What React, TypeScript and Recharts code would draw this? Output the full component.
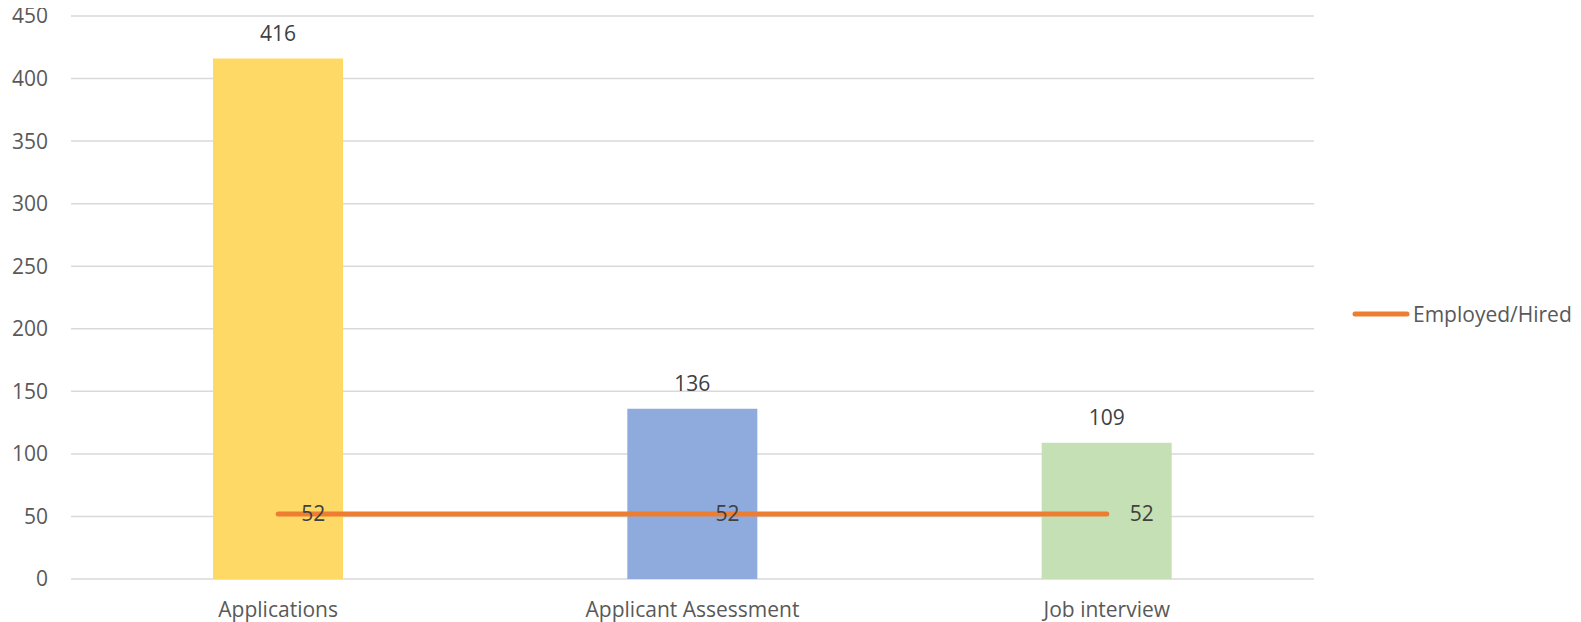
import React from "react";
import {
  ComposedChart,
  Bar,
  Line,
  XAxis,
  YAxis,
  CartesianGrid,
  Cell,
  LabelList,
} from "recharts";

const categories = ["Applications", "Applicant Assessment", "Job interview"];
const stageCounts = [416, 136, 109];
const hiredCounts = [52, 52, 52];
const barColors = ["#FFD966", "#8FAADC", "#C5E0B4"];
const yTicks = [0, 50, 100, 150, 200, 250, 300, 350, 400, 450];
const lineName = "Employed/Hired";
const lineColor = "#ED7D31";

const data = categories.map((c, i) => ({
  name: c,
  stage: stageCounts[i],
  hired: hiredCounts[i],
}));

const FONT = "'Open Sans', sans-serif";
const FS = 21;

const LegendBox = () => (
  <div
    style={{
      position: "absolute",
      left: 1350,
      top: 300,
      height: 28,
      display: "flex",
      alignItems: "center",
      fontFamily: FONT,
      fontSize: FS,
      color: "#595959",
      whiteSpace: "nowrap",
    }}
  >
    <svg width={62} height={10} style={{ marginRight: 1 }}>
      <line x1={5} y1={5} x2={57} y2={5} stroke={lineColor} strokeWidth={5} strokeLinecap="round" />
    </svg>
    <span>{lineName}</span>
  </div>
);

export default function App() {
  return (
    <div style={{ position: "relative", margin: "-8px 0 0 -8px", width: 1581, height: 622 }}>
      <ComposedChart
        width={1581}
        height={622}
        data={data}
        margin={{ top: 16, right: 267, bottom: 0, left: 0 }}
        style={{ fontFamily: FONT }}
      >
        <CartesianGrid vertical={false} stroke="#D9D9D9" strokeWidth={1.5} />
        <XAxis
          dataKey="name"
          axisLine={false}
          tickLine={false}
          tickSize={0}
          tickMargin={23}
          height={43}
          tick={{ fill: "#595959", fontSize: FS, fontFamily: FONT }}
        />
        <YAxis
          domain={[0, 450]}
          ticks={yTicks}
          axisLine={false}
          tickLine={false}
          tickSize={0}
          tickMargin={23}
          width={71}
          tick={{ fill: "#595959", fontSize: FS, fontFamily: FONT }}
        />
        <Bar dataKey="stage" barSize={130} isAnimationActive={false} legendType="none">
          {data.map((d, i) => (
            <Cell key={d.name} fill={barColors[i]} />
          ))}
          <LabelList
            dataKey="stage"
            position="top"
            offset={18}
            fill="#404040"
            fontSize={FS}
            fontFamily={FONT}
          />
        </Bar>
        <Line
          dataKey="hired"
          name={lineName}
          stroke={lineColor}
          strokeWidth={5}
          strokeLinecap="round"
          dot={false}
          activeDot={false}
          isAnimationActive={false}
        >
          <LabelList
            dataKey="hired"
            position="right"
            offset={23}
            fill="#404040"
            fontSize={FS}
            fontFamily={FONT}
          />
        </Line>
      </ComposedChart>
      <LegendBox />
    </div>
  );
}
